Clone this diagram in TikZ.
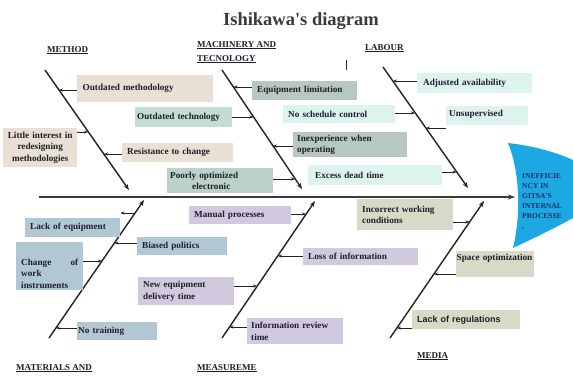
\documentclass[tikz,border=0pt]{standalone}
\usepackage{fontspec}
\setmainfont{Liberation Serif}[Ligatures=TeXOff]
\newfontfamily\lsans{Liberation Sans}
\usetikzlibrary{arrows.meta,calc}
\definecolor{txt}{HTML}{1E1E2C}
\definecolor{beige}{HTML}{E9DFD2}
\definecolor{greenA}{HTML}{C4DDD4}
\definecolor{greenB}{HTML}{BBD2C8}
\definecolor{grayg}{HTML}{B7C8C0}
\definecolor{cyanl}{HTML}{DDF3EE}
\definecolor{bluegr}{HTML}{B1C8D4}
\definecolor{purp}{HTML}{D1C9DD}
\definecolor{khaki}{HTML}{D8D9C7}
\definecolor{headblue}{HTML}{1CA8E3}
\definecolor{headtxt}{HTML}{1A2F66}
\definecolor{bonec}{HTML}{222222}
\definecolor{spinec}{HTML}{3A3A3A}
\definecolor{titlec}{HTML}{3A3A3A}
\begin{document}
\begin{tikzpicture}[x=1pt,y=-1pt,
  box/.style={anchor=north west, inner xsep=3pt, inner ysep=1pt,
    font=\fontsize{9.2}{11.5}\selectfont\bfseries, text=txt, align=left},
  cat/.style={anchor=base west, font=\fontsize{9}{14}\selectfont\bfseries, text=txt, inner sep=0pt, align=left},
  bone/.style={draw=bonec, line width=1.4pt, -{Stealth[length=6pt,width=4.5pt]}},
  spine/.style={draw=spinec, line width=2pt, -{Stealth[length=7pt,width=5pt]}},
  sarr/.style={draw=bonec, line width=0.6pt, -{Stealth[length=4pt,width=3pt]}}]
\useasboundingbox (0,0) rectangle (573,376);
\fill[white] (0,0) rectangle (573,376);
\clip (0,0) rectangle (573,376);

% title
\node[anchor=base, font=\fontsize{18.5}{20}\selectfont\bfseries, text=titlec, inner sep=0pt] (title) at (301,25) {Ishikawa's diagram};

% category labels (base = baseline of last line)
\node[cat] (cmeth) at (47,52) {\underline{METHOD}};
\node[cat] (cmach) at (197,61) {\underline{MACHINERY AND}\\\underline{TECNOLOGY}};
\node[cat] (clab) at (365,50) {\underline{LABOUR}};
\node[cat] (cmat) at (16,384) {\underline{MATERIALS AND}\\\underline{EQUIPMENT}};
\node[cat] (cmeas) at (197,370) {\underline{MEASUREME}};
\node[cat] (cmed) at (417,358) {\underline{MEDIA}};

% stray tick
\coordinate (tk1) at (346,60); \coordinate (tk2) at (346,70);
\draw[draw=bonec, line width=0.8pt] (tk1) -- (tk2);

% head
\fill[headblue] (508,143) .. controls (535,146) and (558,153) .. (573,160) -- (573,218)
  .. controls (555,228) and (530,240) .. (513,248)
  .. controls (521,215) and (520,172) .. (508,143) -- cycle;
\node[anchor=north west, inner sep=0pt, align=left, text=headtxt,
  font=\fontsize{7.5}{10}\selectfont\bfseries] (head) at (522,173)
  {INEFFICIE\\NCY IN\\GITSA'S\\INTERNAL\\PROCESSE\\,};

% spine
\coordinate (S1) at (39,197); \coordinate (S2) at (515,197);
\draw[spine] (S1) -- (S2);

% bones
\coordinate (A1) at (45,70);   \coordinate (A2) at (129,190);
\coordinate (B1) at (222,70);  \coordinate (B2) at (302,189);
\coordinate (C1) at (383,67);  \coordinate (C2) at (468,188);
\coordinate (D1) at (49,338);  \coordinate (D2) at (144,200);
\coordinate (E1) at (222,338); \coordinate (E2) at (315,201);
\coordinate (F1) at (390,338); \coordinate (F2) at (484,201);
\draw[bone] (A1) -- (A2);
\draw[bone] (B1) -- (B2);
\draw[bone] (C1) -- (C2);
\draw[bone] (D1) -- (D2);
\draw[bone] (E1) -- (E2);
\draw[bone] (F1) -- (F2);

% METHOD
\node[box, fill=beige, minimum width=136pt, minimum height=27pt, text width=125pt, inner xsep=5.5pt] (om) at (77,75) {Outdated methodology};
\node[box, fill=beige, minimum width=74pt, minimum height=39pt, text width=70pt, inner xsep=2pt, align=center] (li) at (3,128) {Little interest in\\redesigning\\methodologies};
\node[box, fill=beige, minimum width=111pt, minimum height=19pt, text width=101pt, inner xsep=5pt] (rc) at (122,143) {Resistance to change};
\coordinate (a-om) at (59,90);   \draw[sarr] (om.west |- a-om) -- (a-om);
\coordinate (a-li) at (88,132);  \draw[sarr] (li.east |- a-li) -- (a-li);
\coordinate (a-rc) at (104,154); \draw[sarr] (rc.west |- a-rc) -- (a-rc);

% MACHINERY AND TECNOLOGY
\node[box, fill=greenA, minimum width=97pt, minimum height=20pt, text width=93pt, inner xsep=2pt] (ot) at (135,107) {Outdated technology};
\node[box, fill=greenB, minimum width=106pt, minimum height=25pt, text width=100pt] (po) at (167,168) {Poorly optimized\\\hspace*{22pt}electronic};
\node[box, fill=grayg, minimum width=105pt, minimum height=19pt, text width=95pt, inner xsep=5pt] (el) at (252,81) {Equipment limitation};
\node[box, fill=grayg, minimum width=114pt, minimum height=25pt, text width=106pt, inner xsep=4pt] (ie) at (293,132) {Inexperience when\\operating};
\node[box, fill=cyanl, minimum width=112pt, minimum height=18pt, text width=102pt, inner xsep=5pt] (ns) at (283,105) {No schedule control};
\node[box, fill=cyanl, minimum width=134pt, minimum height=20pt, text width=120pt, inner xsep=7pt] (ed) at (308,165) {Excess dead time};
\coordinate (a-ot) at (253.5,117); \draw[sarr] (ot.east |- a-ot) -- (a-ot);
\coordinate (a-po) at (295,179);   \draw[sarr] (po.east |- a-po) -- (a-po);
\coordinate (a-el) at (233.5,87);  \draw[sarr] (el.west |- a-el) -- (a-el);
\coordinate (a-ie) at (273,146);   \draw[sarr] (ie.west |- a-ie) -- (a-ie);
\coordinate (a-ns) at (415,113);   \draw[sarr] (ns.east |- a-ns) -- (a-ns);
\coordinate (a-ed) at (456.5,172); \draw[sarr] (ed.east |- a-ed) -- (a-ed);

% LABOUR
\node[box, fill=cyanl, minimum width=115pt, minimum height=20pt, text width=103pt, inner xsep=6pt] (aa) at (417,73) {Adjusted availability};
\node[box, fill=cyanl, minimum width=82pt, minimum height=19pt, text width=76pt, text depth=5pt] (un) at (446,106) {Unsupervised};
\coordinate (a-aa) at (393,81);  \draw[sarr] (aa.west |- a-aa) -- (a-aa);
\coordinate (a-un) at (426,128); \draw[sarr] (un.west |- a-un) -- (a-un);

% MATERIALS AND EQUIPMENT
\node[box, fill=bluegr, minimum width=95pt, minimum height=19pt, text width=85pt, inner xsep=5pt] (le) at (25,218) {Lack of equipment};
\node[box, fill=bluegr, minimum width=90pt, minimum height=18pt, text width=80pt, inner xsep=5pt] (bp) at (137,237) {Biased politics};
\node[box, fill=bluegr, minimum width=67pt, minimum height=48pt, text width=57pt, inner xsep=5pt, text depth=8pt] (ch) at (16,242) {Change\hfill of\\work\\instruments};
\node[box, fill=bluegr, minimum width=80pt, minimum height=18pt, text width=78pt, inner xsep=1pt] (nt) at (77,322) {No training};
\coordinate (a-le) at (135,213); \draw[sarr] (a-le) -- (a-le -| le.east);
\coordinate (a-bp) at (114.5,243); \draw[sarr] (bp.west |- a-bp) -- (a-bp);
\coordinate (a-ch) at (102,261);   \draw[sarr] (ch.east |- a-ch) -- (a-ch);
\coordinate (a-nt) at (56,328);    \draw[sarr] (nt.west |- a-nt) -- (a-nt);

% MEASUREMENT
\node[box, fill=purp, minimum width=102pt, minimum height=18pt, text width=92pt, inner xsep=5pt] (mp) at (189,206) {Manual processes};
\node[box, fill=purp, minimum width=115pt, minimum height=17pt, text width=105pt, inner xsep=5pt] (lo) at (303,248) {Loss of information};
\node[box, fill=purp, minimum width=96pt, minimum height=28pt, text width=86pt, inner xsep=5pt] (ne) at (138,277) {New equipment\\delivery time};
\node[box, fill=purp, minimum width=96pt, minimum height=26pt, text width=88pt, inner xsep=4pt] (ir) at (247,318) {Information review\\time};
\coordinate (a-mp) at (306,214);   \draw[sarr] (mp.east |- a-mp) -- (a-mp);
\coordinate (a-lo) at (278,256);   \draw[sarr] (lo.west |- a-lo) -- (a-lo);
\coordinate (a-ne) at (257,286);   \draw[sarr] (ne.east |- a-ne) -- (a-ne);
\coordinate (a-ir) at (229.5,327); \draw[sarr] (ir.west |- a-ir) -- (a-ir);

% MEDIA
\node[box, fill=khaki, minimum width=96pt, minimum height=31pt, text width=86pt, inner xsep=5pt] (ic) at (357,199) {Incorrect working\\conditions};
\node[box, fill=khaki, minimum width=78pt, minimum height=26pt, text width=77pt, inner xsep=0.5pt, text depth=13pt] (so) at (456,251) {Space optimization};
\node[box, fill=khaki, minimum width=108pt, minimum height=19pt, text width=98pt, inner xsep=5pt, font=\fontsize{9}{11}\selectfont\lsans\bfseries] (lr) at (412,310) {Lack of regulations};
\coordinate (a-ic) at (469.5,222); \draw[sarr] (ic.east |- a-ic) -- (a-ic);
\coordinate (a-so) at (434,274);   \draw[sarr] (so.west |- a-so) -- (a-so);
\coordinate (a-lr) at (397,328);   \draw[sarr] (lr.west |- a-lr) -- (a-lr);
\end{tikzpicture}
\end{document}
